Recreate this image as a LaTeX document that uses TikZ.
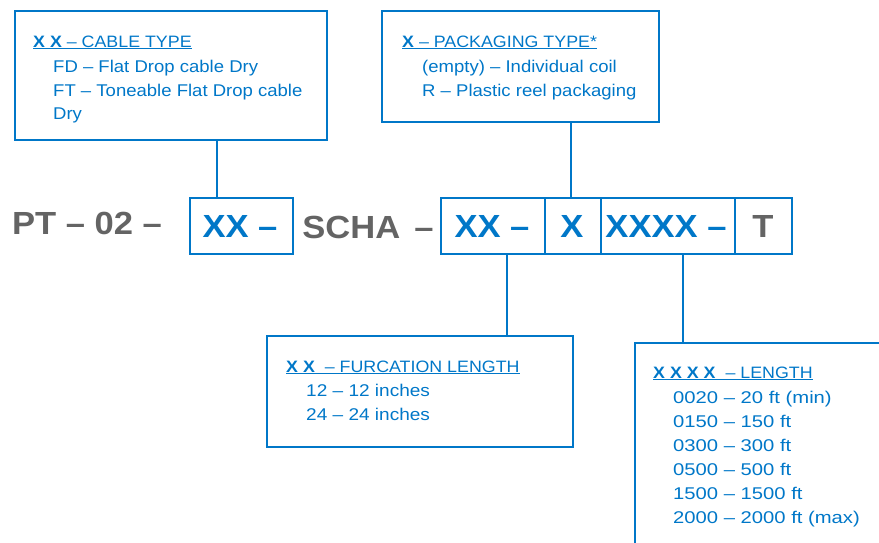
\documentclass[tikz,border=0pt]{standalone}
\usepackage{fontspec}
\setmainfont[FakeStretch=1.08]{Liberation Sans}
\newfontfamily\itemA[FakeStretch=1.09]{Liberation Sans}
\newfontfamily\itemB[FakeStretch=1.12]{Liberation Sans}
\newfontfamily\itemC[FakeStretch=1.19]{Liberation Sans}
\definecolor{bl}{RGB}{0,119,200}
\definecolor{gr}{RGB}{100,100,100}
\tikzset{
  frame/.style={draw=bl, line width=2.4pt, inner sep=0pt, anchor=north west},
  link/.style={draw=bl, line width=2pt},
  big/.style={font=\fontsize{32}{36}\selectfont\bfseries, anchor=base, inner sep=0pt},
  bigblue/.style={big, text=bl},
  biggray/.style={big, text=gr},
  head/.style={font=\fontsize{16.5}{20}\selectfont, text=bl, anchor=base west, inner sep=0pt},
  itema/.style={font=\itemA\fontsize{17}{20}\selectfont, text=bl, anchor=base west, inner sep=0pt},
  itemb/.style={font=\itemB\fontsize{17}{20}\selectfont, text=bl, anchor=base west, inner sep=0pt},
  itemc/.style={font=\itemC\fontsize{17}{20}\selectfont, text=bl, anchor=base west, inner sep=0pt},
}
\newcommand{\hdr}[2]{\underline{\textbf{#1}~#2}}
\begin{document}
\begin{tikzpicture}[x=1pt,y=-1pt]
\useasboundingbox (0,0) rectangle (879,542);
% top boxes
\node[frame, minimum width=312pt, minimum height=129pt] (b1) at (14,10) {};
\node[frame, minimum width=277pt, minimum height=111pt] (b2) at (381,10) {};
% bottom boxes
\node[frame, minimum width=306pt, minimum height=111pt] (b3) at (266,335) {};
\node[frame, minimum width=270pt, minimum height=230pt] (b4) at (634,342) {};
% code boxes
\node[frame, minimum width=103pt, minimum height=56pt] (c1) at (189,197) {};
\node[frame, minimum width=104pt, minimum height=56pt] (c2) at (440,197) {};
\node[frame, minimum width=56pt, minimum height=56pt] (c3) at (544,197) {};
\node[frame, minimum width=134pt, minimum height=56pt] (c4) at (600,197) {};
\node[frame, minimum width=57pt, minimum height=56pt] (c5) at (734,197) {};
% code text
\node[biggray] (t0) at (87,234) {PT – 02 –};
\node[bigblue] (t1) at (240,237) {XX –};
\node[biggray] (t2) at (368,238) {SCHA\hspace{14pt}–};
\node[bigblue] (t3) at (492,237) {XX –};
\node[bigblue] (t4) at (572,237) {X};
\node[bigblue] (t5) at (666,237) {XXXX –};
\node[biggray] (t6) at (763,237) {T};
% connectors
\coordinate (k1) at (217,0);
\coordinate (k2) at (571,0);
\coordinate (k3) at (507,0);
\coordinate (k4) at (683,0);
\draw[link] (b1.south -| k1) -- (c1.north -| k1);
\draw[link] (b2.south -| k2) -- (c3.north -| k2);
\draw[link] (c2.south -| k3) -- (b3.north -| k3);
\draw[link] (c4.south -| k4) -- (b4.north -| k4);
% box 1 text
\node[head] (h1) at (33,47) {\hdr{X X}{– CABLE TYPE}};
\node[itema] (i11) at (53,72) {FD – Flat Drop cable Dry};
\node[itema] (i12) at (53,96) {FT – Toneable Flat Drop cable};
\node[itema] (i13) at (53,119) {Dry};
% box 2 text
\node[head] (h2) at (402,47) {\hdr{X}{– PACKAGING TYPE*}};
\node[itema] (i21) at (422,72) {(empty) – Individual coil};
\node[itema] (i22) at (422,96) {R – Plastic reel packaging};
% box 3 text
\node[head] (h3) at (286,372) {\hdr{X X}{\ – FURCATION LENGTH}};
\node[itemb] (i31) at (306,396) {12 – 12 inches};
\node[itemb] (i32) at (306,420) {24 – 24 inches};
% box 4 text
\node[head] (h4) at (653,378) {\hdr{X X X X}{\ – LENGTH}};
\node[itemc] (i41) at (673,403) {0020 – 20 ft (min)};
\node[itemc] (i42) at (673,427) {0150 – 150 ft};
\node[itemc] (i43) at (673,451) {0300 – 300 ft};
\node[itemc] (i44) at (673,475) {0500 – 500 ft};
\node[itemc] (i45) at (673,499) {1500 – 1500 ft};
\node[itemc] (i46) at (673,523) {2000 – 2000 ft (max)};
\end{tikzpicture}
\end{document}
